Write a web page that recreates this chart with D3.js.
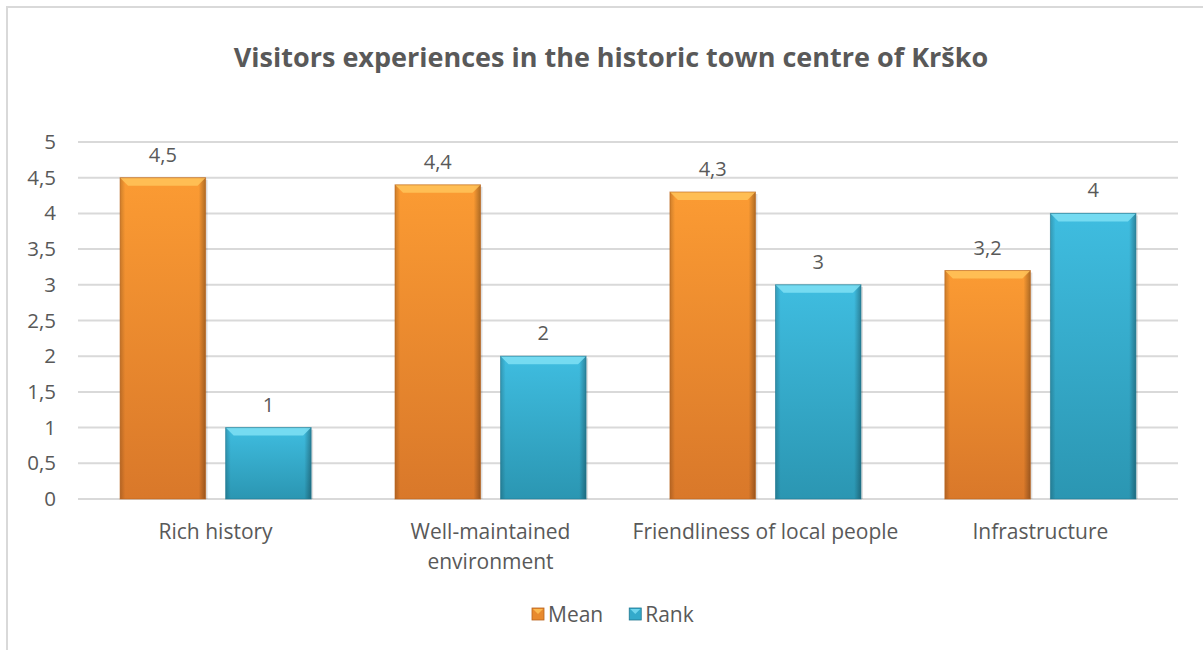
<!DOCTYPE html>
<html><head><meta charset="utf-8">
<script src="https://cdn.jsdelivr.net/npm/d3@7"></script>
<style>
html,body{margin:0;padding:0;background:#fff;}
text{font-family:"Open Sans",sans-serif;fill:#595959;}
</style></head>
<body><svg id="c" width="1203" height="650"></svg>
<script>
const title = "Visitors experiences in the historic town centre of Krško";
const categories = [["Rich history"],["Well-maintained","environment"],["Friendliness of local people"],["Infrastructure"]];
const seriesNames = ["Mean","Rank"];
const meanValues = [4.5,4.4,4.3,3.2];
const rankValues = [1,2,3,4];
const yTicks = [0,0.5,1,1.5,2,2.5,3,3.5,4,4.5,5];

const svg = d3.select("#c");
const W=1203,H=650;
const m={left:78,right:25,top:142,bottom:151};
const pw=W-m.left-m.right, ph=H-m.top-m.bottom;

svg.append("rect").attr("x",7).attr("y",7).attr("width",1200).attr("height",660)
  .attr("fill","none").attr("stroke","#d9d9d9").attr("stroke-width",2);

const defs=svg.append("defs");
function grad(id,c1,c2){
  const g=defs.append("linearGradient").attr("id",id).attr("x1",0).attr("y1",0).attr("x2",0).attr("y2",1);
  g.append("stop").attr("offset","0%").attr("stop-color",c1);
  g.append("stop").attr("offset","100%").attr("stop-color",c2);
  const h=defs.append("linearGradient").attr("id",id+"h").attr("x1",0).attr("y1",0).attr("x2",1).attr("y2",0);
  h.append("stop").attr("offset","0%").attr("stop-color","#000").attr("stop-opacity",0.18);
  h.append("stop").attr("offset","6%").attr("stop-color","#000").attr("stop-opacity",0);
  h.append("stop").attr("offset","92%").attr("stop-color","#000").attr("stop-opacity",0);
  h.append("stop").attr("offset","100%").attr("stop-color","#000").attr("stop-opacity",0.3);
}
grad("gMean","#fb9b33","#d9782a");
grad("gRank","#3fbde0","#2b96b2");
const colors={Mean:{fill:"url(#gMean)",bevel:"#ffc45a",edge:"#b8621c",sq:"#e88a2e"},
              Rank:{fill:"url(#gRank)",bevel:"#7fe0f5",edge:"#1e7690",sq:"#34aacb"}};

const g=svg.append("g").attr("transform",`translate(${m.left},${m.top})`);
const x0=d3.scaleBand().domain(d3.range(categories.length)).range([0,pw]).paddingInner(0.305).paddingOuter(0.153);
const x1=d3.scaleBand().domain(seriesNames).range([0,x0.bandwidth()]).paddingInner(0.19);
const y=d3.scaleLinear().domain([0,5]).range([ph,0]);

g.append("g").selectAll("line").data(yTicks).join("line")
  .attr("x1",0).attr("x2",pw).attr("y1",d=>y(d)).attr("y2",d=>y(d))
  .attr("stroke","#d9d9d9").attr("stroke-width",2);

const yAxis=d3.axisLeft(y).tickValues(yTicks).tickSize(0).tickPadding(22)
  .tickFormat(d=>String(d).replace(".",","));
const ya=g.append("g").call(yAxis);
ya.select(".domain").remove();
ya.selectAll("text").style("font-size","20.5px").attr("fill","#595959").attr("font-family","Open Sans");

const data=categories.map((c,i)=>({i,vals:[{k:"Mean",v:meanValues[i]},{k:"Rank",v:rankValues[i]}]}));
const cg=g.selectAll(".cat").data(data).join("g").attr("transform",d=>`translate(${x0(d.i)},0)`);
cg.each(function(d){
  const s=d3.select(this);
  d.vals.forEach(b=>{
    const bx=x1(b.k), bw=x1.bandwidth(), by=y(b.v), bh=ph-by;
    const c=colors[b.k];
    s.append("rect").attr("x",bx+2).attr("y",by+2).attr("width",bw).attr("height",bh-2).attr("fill","#000").attr("opacity",0.12);
    s.append("rect").attr("x",bx).attr("y",by).attr("width",bw).attr("height",bh).attr("fill",c.fill);
    s.append("rect").attr("x",bx).attr("y",by).attr("width",bw).attr("height",bh).attr("fill",`url(#${b.k==="Mean"?"gMeanh":"gRankh"})`);
    const bv=8;
    s.append("path").attr("d",`M${bx},${by}L${bx+bw},${by}L${bx+bw-bv},${by+bv}L${bx+bv},${by+bv}Z`).attr("fill",c.bevel).attr("opacity",0.85);
    s.append("rect").attr("x",bx).attr("y",by).attr("width",bw).attr("height",bh).attr("fill","none").attr("stroke",c.edge).attr("stroke-width",1).attr("stroke-opacity",0.6);
    s.append("text").attr("x",bx+bw/2).attr("y",by-16).attr("text-anchor","middle").style("font-size","20px")
      .text(String(b.v).replace(".",","));
  });
  const t=s.append("text").attr("text-anchor","middle").attr("x",x0.bandwidth()/2).attr("y",ph+40).style("font-size","21px");
  categories[d.i].forEach((ln,j)=>t.append("tspan").attr("x",x0.bandwidth()/2).attr("dy",j?30:0).text(ln));
});

svg.append("text").attr("x",611).attr("y",67).attr("text-anchor","middle")
  .style("font-size","27px").style("font-weight","bold").text(title);

const lg=svg.append("g").attr("transform","translate(532,608)");
let lx=0;
seriesNames.forEach((n,i)=>{
  const c=colors[n];
  const it=lg.append("g").attr("transform",`translate(${lx},0)`);
  it.append("rect").attr("width",12).attr("height",12).attr("fill",c.sq).attr("stroke",c.edge).attr("stroke-width",0.8);
  it.append("path").attr("d","M1,1L11,1L6,6Z").attr("fill",c.bevel).attr("opacity",0.8);
  const tx=it.append("text").attr("x",16).attr("y",14).style("font-size","21px").text(n);
  lx+=16+tx.node().getComputedTextLength()+26;
});
</script></body></html>
